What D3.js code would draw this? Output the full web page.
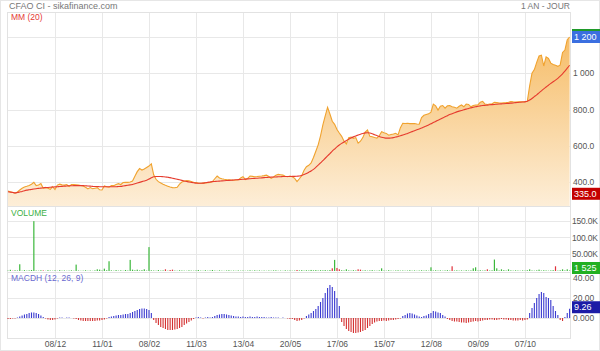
<!DOCTYPE html>
<html>
<head>
<meta charset="utf-8">
<script src="https://cdn.jsdelivr.net/npm/d3@7"></script>
<style>
  html, body { margin: 0; padding: 0; background: #fff; }
  svg { display: block; font-family: Arial, "Liberation Sans", sans-serif; }
  .axis path, .axis line { display: none; }
  .axis text { fill: #555; font-size: 8.5px; }
</style>
</head>
<body>
<div id="chart"></div>
<script>
// daily closes (1 year)
const closes = [
  350, 346, 343, 338, 345, 356, 365, 372, 376, 381, 388, 398, 380, 383, 391, 365, 370, 365, 360, 374,
  358, 383, 388, 384, 383, 386, 375, 386, 386, 385, 383, 381, 378, 371, 362, 369, 363, 366, 369, 357,
  356, 378, 374, 371, 381, 380, 386, 391, 386, 397, 398, 398, 400, 405, 432, 457, 474, 466, 472, 480,
  488, 500, 440, 415, 402, 395, 388, 382, 377, 372, 369, 368, 371, 388, 400, 404, 408, 406, 403, 399,
  397, 394, 393, 394, 395, 396, 398, 402, 418, 433, 422, 418, 415, 413, 412, 411, 410, 411, 412, 422,
  429, 414, 420, 433, 431, 429, 430, 432, 433, 435, 438, 430, 420, 428, 437, 442, 440, 438, 432, 429,
  433, 429, 420, 402, 418, 435, 465, 484, 492, 505, 535, 570, 605, 655, 715, 765, 812, 775, 735, 718,
  690, 670, 652, 625, 610, 645, 648, 641, 645, 614, 625, 645, 675, 687, 652, 650, 645, 642, 655, 678,
  672, 668, 658, 662, 665, 669, 660, 700, 724, 723, 724, 722, 722, 723, 720, 719, 755, 768, 772, 776,
  785, 830, 820, 797, 818, 822, 807, 820, 822, 815, 812, 807, 818, 825, 815, 830, 828, 815, 822, 825,
  825, 840, 845, 830, 828, 830, 832, 840, 838, 836, 836, 837, 838, 840, 844, 842, 841, 842, 843, 843,
  843, 845, 930, 1000, 1020, 1060, 1095, 1100, 1040, 1090, 1082, 1056, 1048, 1044, 1038, 1046, 1115, 1128, 1185, 1200
];

// MM (20)
const ma20 = [
  346, 344, 342, 340, 342, 345, 348, 352, 355, 357, 359, 361, 363, 365, 366, 368, 369, 370, 371, 372,
  373, 374, 375, 376, 377, 378, 379, 379, 380, 380, 380, 380, 380, 379, 378, 377, 376, 375, 375, 374,
  374, 374, 374, 374, 374, 374, 374, 375, 376, 378, 380, 382, 384, 386, 390, 394, 398, 402, 406, 410,
  416, 423, 429, 430, 430, 430, 429, 428, 426, 424, 421, 418, 415, 412, 409, 406, 403, 400, 398, 396,
  394, 393, 393, 394, 396, 398, 400, 402, 403, 404, 405, 406, 407, 408, 409, 410, 411, 412, 413, 414,
  415, 416, 417, 418, 419, 420, 421, 422, 423, 424, 425, 426, 427, 428, 428, 429, 429, 430, 430, 430,
  430, 431, 431, 432, 433, 436, 441, 447, 454, 461, 470, 481, 493, 505, 518, 531, 544, 557, 570, 582,
  594, 604, 613, 621, 629, 636, 643, 649, 654, 659, 664, 668, 671, 672, 670, 666, 661, 656, 651, 647,
  644, 642, 642, 643, 645, 648, 651, 655, 659, 663, 668, 673, 678, 683, 688, 693, 698, 703, 709, 715,
  721, 728, 734, 741, 747, 753, 760, 766, 772, 777, 782, 787, 791, 795, 799, 802, 806, 809, 812, 815,
  818, 820, 822, 823, 824, 826, 827, 828, 829, 830, 831, 832, 833, 834, 835, 836, 838, 839, 840, 841,
  842, 845, 852, 861, 871, 881, 892, 903, 914, 924, 934, 944, 953, 962, 972, 984, 997, 1012, 1028, 1044
];

const volumes = [
  1200, 3500, 800, 2100, 1500, 20000, 900, 2600, 1100, 1800, 3000, 148000, 1400, 900, 2200, 1700, 600, 2400, 1300, 900,
  1900, 700, 2500, 1000, 1600, 800, 1200, 2000, 900, 19000, 1500, 700, 1100, 2300, 800, 1400, 600, 1800, 5000, 4000,
  1500, 7000, 2200, 29000, 1800, 900, 2600, 1200, 1900, 800, 3000, 1400, 33000, 4000, 2100, 4000, 1600, 2400, 5000, 1300,
  71000, 2000, 1500, 900, 2800, 1200, 1700, 5000, 1000, 3000, 4000, 1300, 800, 2100, 1500, 1100, 700, 1900, 1200, 900,
  1600, 3000, 1100, 800, 2200, 900, 1400, 3000, 1200, 700, 1800, 1000, 600, 1500, 2100, 900, 1300, 800, 1700, 1000,
  1400, 700, 1200, 2000, 900, 2000, 1100, 1600, 800, 1300, 700, 1500, 1000, 1800, 2000, 900, 1200, 700, 2000, 1100,
  1500, 900, 1300, 3000, 1800, 2500, 1200, 2200, 1600, 3100, 2000, 2700, 1500, 2300, 1900, 2600, 1400, 2800, 8000, 33000,
  9000, 5000, 2200, 1500, 5000, 1800, 1200, 2400, 1600, 5000, 4000, 1300, 2100, 1000, 1700, 2500, 1200, 900, 1800, 8000,
  1400, 1000, 2300, 1200, 800, 1600, 2000, 1100, 1500, 900, 1300, 2200, 1000, 1700, 800, 1400, 2100, 1200, 1900, 1000,
  11000, 1500, 2200, 1300, 1800, 900, 1600, 2400, 1200, 14000, 1400, 2000, 1100, 1700, 900, 2300, 1300, 1800, 8000, 11000,
  1500, 2200, 1200, 1800, 5000, 1400, 2100, 34000, 8000, 1600, 5000, 2400, 1300, 5000, 1800, 1100, 2000, 1400, 900, 1700,
  1200, 2300, 5000, 1500, 1000, 1900, 4000, 1300, 2200, 1600, 1000, 1800, 2500, 14000, 1200, 2100, 5000, 1700, 5000, 1525
];
// sessions whose volume bar is red
const downDays = [2, 15, 67, 69, 70, 123, 138, 140, 141, 149, 150, 189, 204, 233];

// MACD histogram (12, 26, 9)
const macdHist = [
  -1, -1, -0.5, -0.5,
  0.5, 1.5, 2.5, 3.5, 4, 5, 5.5, 5.5, 5, 4, 2.5, 1,
  -0.5, -1.5, -2, -2, -1.5,
  -0.5, 0.5, 0.5, 0, 0.5, 0.5, 0,
  -0.5, -1, -2, -2.5, -3, -3, -3, -3, -3, -3, -2.5, -2.5, -2, -1.5, -0.5,
  1, 1.5, 2, 2.5, 3, 3, 3.5, 4,
  4, 5, 6, 7, 8, 9, 9.5, 9.5, 9, 8, 5,
  -2, -5, -7, -9, -10, -11, -12, -12, -12, -11.5, -11, -10, -9, -7, -5.5, -4, -2.5, -1,
  0.5, 1, 0.5, -0.5, 0.5, 1, 0.5, 1,
  2, 3, 3.5, 4, 4, 3.5, 3, 2.5, 2,
  1.5, 1.5, 1, 1.5, 1, 1, 1.5, 1, 1, 1.5, 1, 1, 1, 0.5, 0.5, 1, 0.5, 0.5, 0.5, 0, 0.5, 0,
  -0.5, -1, -1, -2, -3, -2.5, -2, -0.5,
  2, 3.5, 5, 7, 9,
  12, 16, 20, 25, 30, 33, 31, 27, 20, 12,
  -4, -8, -11, -13, -14, -15, -15, -14.5, -14, -13, -12, -10, -8, -6, -4.5,
  -3.5, -3, -3, -2.5, -3, -2.5, -2, -2, -1.5, -1, -0.5,
  2, 3, 4.5, 5, 4.5, 3.5, 2.5,
  1.5, 1, 2, 2.5,
  4, 5, 7, 6.5, 5.5, 5, 3, 1.5,
  -1, -2, -3, -3.5, -3.5, -4, -4.5, -4.5, -5, -4.5, -4, -3.5, -3, -3.5, -3, -2.5, -2,
  -2, -1.5, -1.5, -2, -2, -1.5, -1, -1.5, -1.5, -2, -2, -2.5, -2.5, -2.5, -2, -2.5, -2, -1.5,
  5, 10, 15, 20, 24, 26, 25, 21, 20, 18, 12, 7,
  3, -2, -3, 1, 5, 9.26
];

const xTickIdx = [20, 40, 60, 80, 100, 120, 140, 160, 180, 200, 220];
const xTickLabels = ['08/12', '11/01', '08/02', '11/03', '13/04', '20/05', '17/06', '15/07', '12/08', '09/09', '07/10'];
const priceTicks = [400, 600, 800, 1000, 1200];
const volTicks = [50000, 100000, 150000];
const macdTicks = [0, 20, 40];

const lastClose = 1200;
const lowClose = 335;
const lastVolume = 1525;
const lastMacd = 9.26;

const width = 600, height = 351;
const plotL = 8, plotR = 570;
const price = { top: 12, bottom: 206 };
const vol = { top: 206, bottom: 272 };
const macd = { top: 272, bottom: 338 };

const x = d3.scaleLinear().domain([0, closes.length - 1]).range([plotL, plotR - 0.4]);
const yP = d3.scaleLinear().domain([400, 1200]).range([182, 37]);
const yV = d3.scaleLinear().domain([0, 150000]).range([271, 220.5]);
const yM = d3.scaleLinear().domain([0, 40]).range([318, 278]);

const fmtPrice = (v) => v >= 1000 ? d3.format(',')(v).replace(',', ' ') : v.toFixed(1);
const fmtVol = (v) => { const k = v / 1000; return (k >= 100 ? k.toFixed(1) : k.toFixed(2)) + 'K'; };
const fmtMacd = (v) => v === 0 ? '0.000' : v.toPrecision(4);

const svg = d3.select('#chart').append('svg')
  .attr('width', width).attr('height', height);

const defs = svg.append('defs');
const grad = defs.append('linearGradient')
  .attr('id', 'pfill').attr('gradientUnits', 'userSpaceOnUse')
  .attr('x1', 0).attr('x2', 0).attr('y1', 37).attr('y2', price.bottom);
grad.append('stop').attr('offset', 0).attr('stop-color', '#f6bd68');
grad.append('stop').attr('offset', 1).attr('stop-color', '#fdeed8');

// outer frame
svg.append('rect').attr('x', 0.5).attr('y', 0.5).attr('width', width - 1).attr('height', height - 1)
  .attr('fill', 'none').attr('stroke', '#e6e6e6');

svg.append('text').attr('x', 9).attr('y', 9).attr('font-size', 9).attr('fill', '#777')
  .text('CFAO CI - sikafinance.com');
svg.append('text').attr('x', plotR).attr('y', 9).attr('font-size', 8.5).attr('fill', '#777')
  .attr('text-anchor', 'end').text('1 AN - JOUR');

// grids
const grid = svg.append('g').attr('stroke', '#e8e8e8').attr('stroke-width', 1);
grid.selectAll('line.v').data(xTickIdx).join('line')
  .attr('x1', (d) => Math.round(x(d)) + 0.5).attr('x2', (d) => Math.round(x(d)) + 0.5)
  .attr('y1', price.top).attr('y2', macd.bottom);
grid.selectAll('line.hp').data(priceTicks).join('line')
  .attr('x1', plotL).attr('x2', plotR).attr('y1', (d) => Math.round(yP(d)) + 0.5).attr('y2', (d) => Math.round(yP(d)) + 0.5);
grid.selectAll('line.hv').data(volTicks).join('line')
  .attr('x1', plotL).attr('x2', plotR).attr('y1', (d) => Math.round(yV(d)) + 0.5).attr('y2', (d) => Math.round(yV(d)) + 0.5);
grid.selectAll('line.hm').data(macdTicks).join('line')
  .attr('x1', plotL).attr('x2', plotR).attr('y1', (d) => Math.round(yM(d)) + 0.5).attr('y2', (d) => Math.round(yM(d)) + 0.5);
// panel frames
[price, vol, macd].forEach((p) => {
  svg.append('rect').attr('x', plotL - 0.5).attr('y', p.top + 0.5).attr('width', plotR - plotL + 1).attr('height', p.bottom - p.top)
    .attr('fill', 'none').attr('stroke', '#e2e2e2');
});

// price area + line
svg.append('path').datum(closes)
  .attr('fill', 'url(#pfill)')
  .attr('d', d3.area().x((d, i) => x(i)).y0(price.bottom).y1((d) => yP(d)));
svg.append('path').datum(closes)
  .attr('fill', 'none').attr('stroke', '#f0a22e').attr('stroke-width', 1.1)
  .attr('d', d3.line().x((d, i) => x(i)).y((d) => yP(d)));
svg.append('path').datum(ma20)
  .attr('fill', 'none').attr('stroke', '#e63b2e').attr('stroke-width', 1.1)
  .attr('d', d3.line().x((d, i) => x(i)).y((d) => yP(d)).curve(d3.curveMonotoneX));

// volume bars
const downSet = new Set(downDays);
svg.append('g').selectAll('rect').data(volumes).join('rect')
  .attr('x', (d, i) => x(i) - 0.6).attr('width', 1.2)
  .attr('y', (d) => yV(d)).attr('height', (d) => yV(0) - yV(d))
  .attr('fill', (d, i) => downSet.has(i) ? '#e0303a' : '#3cb83c');

// macd bars
svg.append('g').selectAll('rect').data(macdHist).join('rect')
  .attr('x', (d, i) => x(i) - 0.55).attr('width', 1.1)
  .attr('y', (d) => Math.min(yM(d), yM(0))).attr('height', (d) => Math.abs(yM(d) - yM(0)))
  .attr('fill', (d) => d >= 0 ? '#3b3bd0' : '#d43030');

// panel titles
svg.append('text').attr('x', 11).attr('y', 20).attr('font-size', 8.5).attr('fill', '#e53935').text('MM (20)');
svg.append('text').attr('x', 11).attr('y', 216).attr('font-size', 8.5).attr('fill', '#3cb043').text('VOLUME');
svg.append('text').attr('x', 11).attr('y', 281).attr('font-size', 8.5).attr('fill', '#6a6ad0').text('MACDH (12, 26, 9)');

// right axes
svg.append('g').attr('class', 'axis').attr('transform', `translate(${plotR},0)`)
  .call(d3.axisRight(yP).tickValues(priceTicks.filter((v) => v !== 1200)).tickFormat(fmtPrice).tickSize(0).tickPadding(3));
svg.append('g').attr('class', 'axis').attr('transform', `translate(${plotR},0)`)
  .call(d3.axisRight(yV).tickValues(volTicks).tickFormat(fmtVol).tickSize(0).tickPadding(2))
  .selectAll('text').attr('font-size', 8).attr('letter-spacing', -0.2);
svg.append('g').attr('class', 'axis').attr('transform', `translate(${plotR},0)`)
  .call(d3.axisRight(yM).tickValues(macdTicks).tickFormat(fmtMacd).tickSize(0).tickPadding(3));

// bottom axis
svg.append('g').attr('class', 'axis').attr('transform', `translate(0,${macd.bottom})`)
  .call(d3.axisBottom(x).tickValues(xTickIdx).tickFormat((d, i) => xTickLabels[i]).tickSize(0).tickPadding(3));

// value badges on the right
function badge(yPos, label, fill) {
  const g = svg.append('g');
  g.append('rect').attr('x', plotR + 2).attr('y', yPos - 6).attr('width', width - plotR - 2).attr('height', 12).attr('fill', fill);
  g.append('text').attr('x', plotR + 4).attr('y', yPos + 3.2).attr('font-size', 9).attr('fill', '#fff').text(label);
}
svg.append('rect').attr('x', plotR + 2).attr('y', yP(lastClose) - 8).attr('width', width - plotR - 2).attr('height', 2.5).attr('fill', '#1f9a2a');
badge(yP(lastClose), fmtPrice(lastClose), '#3b6fe0');
badge(yP(lowClose), fmtPrice(lowClose), '#c40000');
badge(yV(0) - 3, d3.format(',')(lastVolume).replace(',', ' '), '#22b022');
badge(yM(lastMacd) - 1.5, String(lastMacd), '#1c1ca6');
</script>
</body>
</html>
